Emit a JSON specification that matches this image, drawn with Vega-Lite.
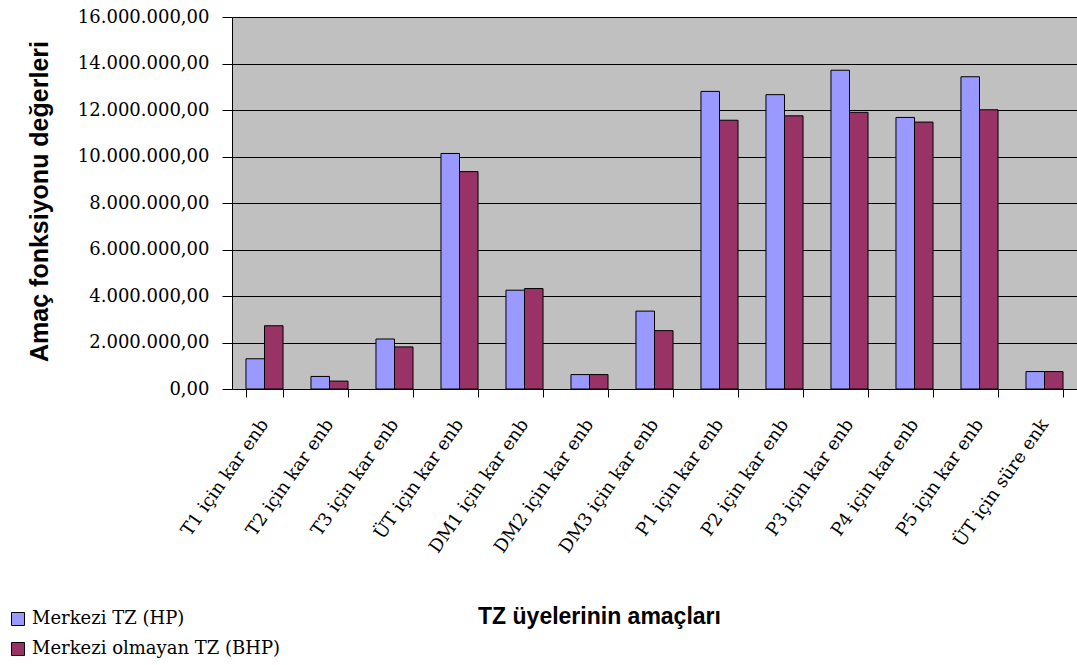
{
  "$schema": "https://vega.github.io/schema/vega-lite/v6.json",
  "autosize": "none",
  "padding": {"left": 232, "top": 17, "right": 0, "bottom": 276},
  "width": 845,
  "height": 372,
  "config": {
    "locale": {"number": {"decimal": ",", "thousands": ".", "grouping": [3], "currency": ["", ""]}},
    "view": {"fill": "#C0C0C0", "stroke": null},
    "background": "white"
  },
  "data": {
    "values": [
      {"amac": "T1 için kar enb", "seri": "Merkezi TZ (HP)", "deger": 1300000},
      {"amac": "T1 için kar enb", "seri": "Merkezi olmayan TZ (BHP)", "deger": 2720000},
      {"amac": "T2 için kar enb", "seri": "Merkezi TZ (HP)", "deger": 540000},
      {"amac": "T2 için kar enb", "seri": "Merkezi olmayan TZ (BHP)", "deger": 340000},
      {"amac": "T3 için kar enb", "seri": "Merkezi TZ (HP)", "deger": 2150000},
      {"amac": "T3 için kar enb", "seri": "Merkezi olmayan TZ (BHP)", "deger": 1810000},
      {"amac": "ÜT için kar enb", "seri": "Merkezi TZ (HP)", "deger": 10130000},
      {"amac": "ÜT için kar enb", "seri": "Merkezi olmayan TZ (BHP)", "deger": 9350000},
      {"amac": "DM1 için kar enb", "seri": "Merkezi TZ (HP)", "deger": 4250000},
      {"amac": "DM1 için kar enb", "seri": "Merkezi olmayan TZ (BHP)", "deger": 4320000},
      {"amac": "DM2 için kar enb", "seri": "Merkezi TZ (HP)", "deger": 620000},
      {"amac": "DM2 için kar enb", "seri": "Merkezi olmayan TZ (BHP)", "deger": 620000},
      {"amac": "DM3 için kar enb", "seri": "Merkezi TZ (HP)", "deger": 3350000},
      {"amac": "DM3 için kar enb", "seri": "Merkezi olmayan TZ (BHP)", "deger": 2510000},
      {"amac": "P1 için kar enb", "seri": "Merkezi TZ (HP)", "deger": 12800000},
      {"amac": "P1 için kar enb", "seri": "Merkezi olmayan TZ (BHP)", "deger": 11560000},
      {"amac": "P2 için kar enb", "seri": "Merkezi TZ (HP)", "deger": 12660000},
      {"amac": "P2 için kar enb", "seri": "Merkezi olmayan TZ (BHP)", "deger": 11750000},
      {"amac": "P3 için kar enb", "seri": "Merkezi TZ (HP)", "deger": 13710000},
      {"amac": "P3 için kar enb", "seri": "Merkezi olmayan TZ (BHP)", "deger": 11900000},
      {"amac": "P4 için kar enb", "seri": "Merkezi TZ (HP)", "deger": 11680000},
      {"amac": "P4 için kar enb", "seri": "Merkezi olmayan TZ (BHP)", "deger": 11480000},
      {"amac": "P5 için kar enb", "seri": "Merkezi TZ (HP)", "deger": 13430000},
      {"amac": "P5 için kar enb", "seri": "Merkezi olmayan TZ (BHP)", "deger": 12010000},
      {"amac": "ÜT için süre enk", "seri": "Merkezi TZ (HP)", "deger": 750000},
      {"amac": "ÜT için süre enk", "seri": "Merkezi olmayan TZ (BHP)", "deger": 750000}
    ]
  },
  "mark": {"type": "bar", "stroke": "black", "strokeWidth": 1},
  "encoding": {
    "x": {
      "field": "amac",
      "type": "nominal",
      "sort": null,
      "scale": {"paddingInner": 0.43, "paddingOuter": 0.215},
      "axis": {
        "title": "TZ üyelerinin amaçları",
        "titleFont": "Liberation Sans",
        "titleFontSize": 23,
        "titleFontWeight": "bold",
        "titleColor": "black",
        "titleX": 367,
        "titleY": 234,
        "titleAlign": "center",
        "titleBaseline": "alphabetic",
        "labelFont": "DejaVu Serif",
        "labelFontSize": 18,
        "labelColor": "black",
        "labelAngle": -55,
        "labelAlign": "right",
        "labelBaseline": "middle",
        "labelPadding": 24,
        "labelOverlap": false,
        "labelLimit": 400,
        "tickBand": "extent",
        "tickSize": 8,
        "tickColor": "black",
        "domainColor": "black",
        "grid": false
      }
    },
    "xOffset": {"field": "seri", "type": "nominal", "sort": ["Merkezi TZ (HP)", "Merkezi olmayan TZ (BHP)"]},
    "y": {
      "field": "deger",
      "type": "quantitative",
      "scale": {"domain": [0, 16000000], "nice": false},
      "axis": {
        "title": "Amaç fonksiyonu değerleri",
        "titleFont": "Liberation Sans",
        "titleFontSize": 25,
        "titleFontWeight": "bold",
        "titleColor": "black",
        "titleAngle": -90,
        "titleX": -185,
        "titleY": 184,
        "titleAlign": "center",
        "titleBaseline": "alphabetic",
        "values": [0, 2000000, 4000000, 6000000, 8000000, 10000000, 12000000, 14000000, 16000000],
        "format": ",.2f",
        "labelFont": "DejaVu Serif",
        "labelFontSize": 18,
        "labelColor": "black",
        "labelPadding": 13,
        "tickSize": 10,
        "tickColor": "black",
        "domainColor": "black",
        "grid": true,
        "gridColor": "black",
        "gridWidth": 1
      }
    },
    "color": {
      "field": "seri",
      "type": "nominal",
      "sort": ["Merkezi TZ (HP)", "Merkezi olmayan TZ (BHP)"],
      "scale": {"domain": ["Merkezi TZ (HP)", "Merkezi olmayan TZ (BHP)"], "range": ["#9999FF", "#993366"]},
      "legend": {
        "orient": "none",
        "legendX": -223,
        "legendY": 593,
        "title": null,
        "padding": 0,
        "symbolType": "square",
        "symbolSize": 169,
        "symbolStrokeColor": "black",
        "symbolStrokeWidth": 1,
        "symbolOpacity": 1,
        "labelFont": "DejaVu Serif",
        "labelFontSize": 18,
        "labelColor": "black",
        "labelOffset": 5,
        "labelLimit": 400,
        "rowPadding": 12
      }
    }
  }
}
